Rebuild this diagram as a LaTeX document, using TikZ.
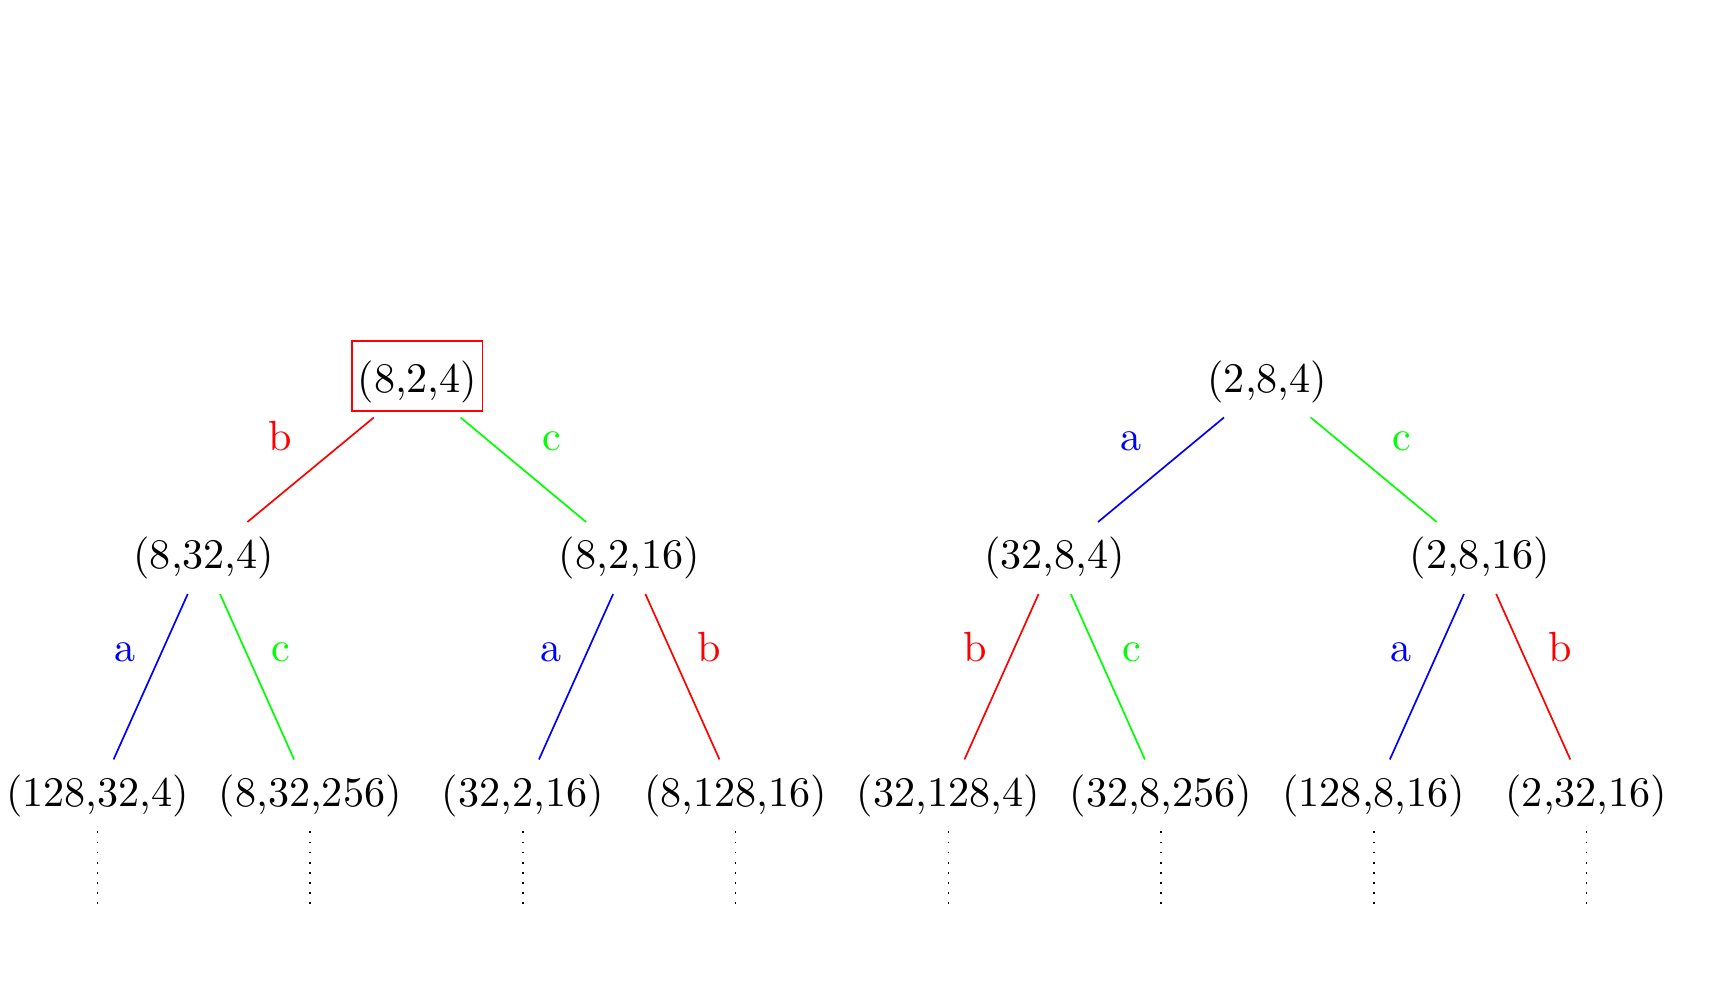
\documentclass[tikz,border=0pt]{standalone}
\definecolor{tred}{rgb}{1, 0, 0}
\definecolor{tgreen}{rgb}{0, 1, 0}
\definecolor{tblue}{rgb}{0, 0, 1}
\tikzset{aedge/.style={color=tblue}}
\tikzset{bedge/.style={color=tred}}
\tikzset{cedge/.style={color=tgreen}}
\tikzset{more/.style={dotted}}

\begin{document}
\begin{tikzpicture}%{{{
        \useasboundingbox (-3.478, -5.004) rectangle (10.772, 3.179);

        \node (La) at (0, 0) {(8,2,4)};
        \node (Lb) at (-1.779, -1.471) {(8,32,4)};
        \node (Lc) at (1.766, -1.471) {(8,2,16)};
        \node (Ld) at (-2.666, -3.45) {(128,32,4)};
        \node (Le) at (-0.893, -3.45) {(8,32,256)};
        \node (Lf) at (0.879, -3.45) {(32,2,16)};
        \node (Lg) at (2.652, -3.45) {(8,128,16)};

        \draw [tred] ([shift={(-15.48pt,-6.99pt)}]La.center) rectangle ([shift={(15.48pt,9.67pt)}]La.center);

        \draw [bedge] (La) -- node[above left=1pt] {b} (Lb);
        \draw [cedge] (La) -- node[above right=1pt] {c} (Lc);
        \draw [aedge] (Lb) -- node[above left] {a} (Ld);
        \draw [cedge] (Lb) -- node[above right] {c} (Le);
        \draw [aedge] (Lc) -- node[above left] {a} (Lf);
        \draw [bedge] (Lc) -- node[above right] {b} (Lg);

        \node (Ra) at (7.083, 0) {(2,8,4)};
        \node (Rb) at (5.311, -1.471) {(32,8,4)};
        \node (Rc) at (8.856, -1.471) {(2,8,16)};
        \node (Rd) at (4.425, -3.45) {(32,128,4)};
        \node (Re) at (6.197, -3.45) {(32,8,256)};
        \node (Rf) at (7.970, -3.45) {(128,8,16)};
        \node (Rg) at (9.742, -3.45) {(2,32,16)};

        \draw [aedge] (Ra) -- node[above left=1pt] {a} (Rb);
        \draw [cedge] (Ra) -- node[above right=1pt] {c} (Rc);
        \draw [bedge] (Rb) -- node[above left] {b} (Rd);
        \draw [cedge] (Rb) -- node[above right] {c} (Re);
        \draw [aedge] (Rc) -- node[above left] {a} (Rf);
        \draw [bedge] (Rc) -- node[above right] {b} (Rg);

        \coordinate (Dd) at (-2.666, -4.421);
        \coordinate (De) at (-0.893, -4.421);
        \coordinate (Df) at (0.879, -4.421);
        \coordinate (Dg) at (2.652, -4.421);
        \coordinate (Ed) at (4.425, -4.421);
        \coordinate (Ee) at (6.197, -4.421);
        \coordinate (Ef) at (7.970, -4.421);
        \coordinate (Eg) at (9.742, -4.421);

        \draw [more] (Ld) -- (Dd);
        \draw [more] (Le) -- (De);
        \draw [more] (Lf) -- (Df);
        \draw [more] (Lg) -- (Dg);
        \draw [more] (Rd) -- (Ed);
        \draw [more] (Re) -- (Ee);
        \draw [more] (Rf) -- (Ef);
        \draw [more] (Rg) -- (Eg);

    \end{tikzpicture}
\end{document}
